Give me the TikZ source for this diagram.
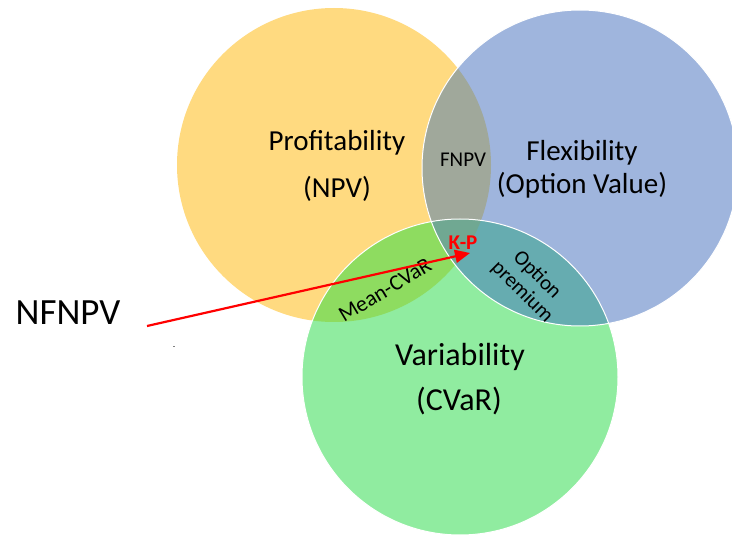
\documentclass[tikz,border=0pt]{standalone}
\usepackage{fontspec}
\setmainfont{Carlito}
\usetikzlibrary{arrows.meta}
\definecolor{cyel}{HTML}{FFDA80}
\definecolor{cblu}{HTML}{9FB5DD}
\definecolor{cgrn}{HTML}{90ECA0}
\definecolor{cyb}{HTML}{A0A89B}
\definecolor{cyg}{HTML}{8EDC60}
\definecolor{cbg}{HTML}{66ACB0}
\definecolor{cybg}{HTML}{70A892}
\tikzset{
  big/.style={font=\fontsize{29}{35}\selectfont, align=center, text=black},
  mid/.style={font=\fontsize{22}{25}\selectfont, align=center, text=black, inner sep=1pt},
  small/.style={font=\fontsize{21}{22}\selectfont, text=black, inner sep=0pt},
}
\begin{document}
\begin{tikzpicture}[x=1pt,y=-1pt]
\useasboundingbox (0,0) rectangle (732,540);
\clip (0,0) rectangle (732,540);
\coordinate (Y) at (334,165);
\coordinate (B) at (580,168);
\coordinate (G) at (460,377);
\def\ry{157pt}\def\rb{158pt}\def\rg{158pt}
\fill[cyel] (Y) circle (\ry);
\fill[cblu] (B) circle (\rb);
\fill[cgrn] (G) circle (\rg);
\begin{scope}\clip (Y) circle (\ry); \fill[cyb] (B) circle (\rb);\end{scope}
\begin{scope}\clip (Y) circle (\ry); \fill[cyg] (G) circle (\rg);\end{scope}
\begin{scope}\clip (B) circle (\rb); \fill[cbg] (G) circle (\rg);\end{scope}
\begin{scope}\clip (Y) circle (\ry); \clip (B) circle (\rb); \fill[cybg] (G) circle (\rg);\end{scope}
\draw[white, line width=1pt] (B) circle (\rb);
\draw[white, line width=1pt] (G) circle (\rg);

\node[big] (prof) at (337,143) {Profitability};
\node[big] (npv) at (337,189) {(NPV)};
\node[big] (flex) at (582,153) {Flexibility};
\node[big] (ov) at (582,185) {(Option Value)};
\node[font=\fontsize{32}{36}\selectfont] (var) at (460,357) {Variability};
\node[font=\fontsize{32}{36}\selectfont] (cvar) at (459,401) {(CVaR)};
\node[font=\fontsize{21}{24}\selectfont] (fnpv) at (463,160) {FNPV};
\node[mid, rotate=31] (mcvar) at (385,290) {Mean-CVaR};
\node[small, rotate=-45] (opt) at (537,275) {Option};
\node[small, rotate=-45] (prem) at (522,292) {premium};
\node[font=\bfseries\fontsize{21}{24}\selectfont, text=red, inner sep=1pt] (kp) at (463,243) {K-P};
\node[font=\fontsize{37}{40}\selectfont] (nf) at (68,313) {NFNPV};
\coordinate (as) at (147,326);
\coordinate (at) at (470,253);
\draw[red, line width=2.2pt, -{Triangle[length=15pt,width=13pt]}] (as) -- (at);
\fill[gray] (172.5,346.5) rectangle (174.5,347.5);
\end{tikzpicture}
\end{document}
